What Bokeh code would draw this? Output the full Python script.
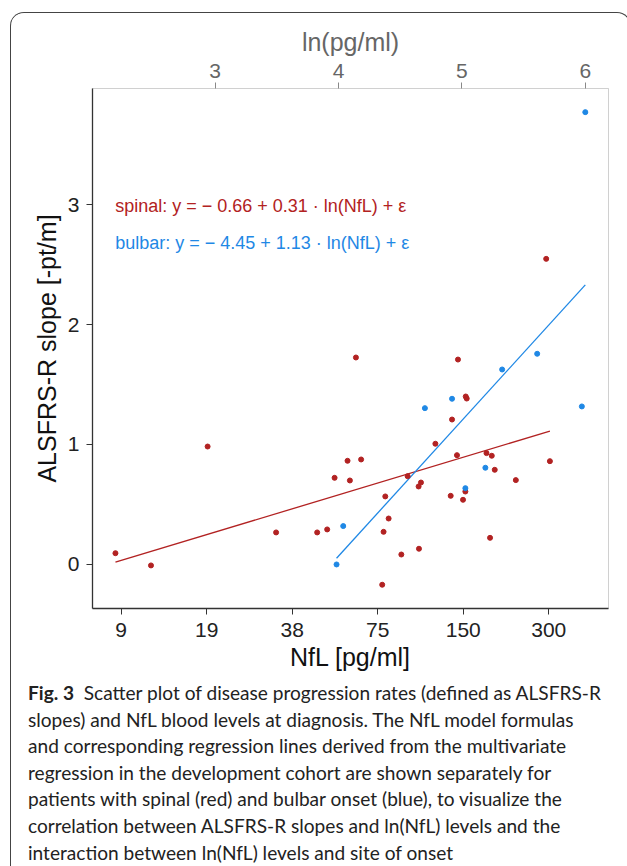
import math
from bokeh.plotting import figure
from bokeh.models import (LinearAxis, FixedTicker, Range1d, Label, Div)
from bokeh.layouts import column
from bokeh.embed import file_html
from bokeh.resources import INLINE

# ---------------- data ----------------
spinal_ln_nfl = [2.192, 2.480, 2.939, 3.494, 3.827, 3.908, 3.968, 4.073, 4.092, 4.141,
                 4.183, 4.354, 4.365, 4.379, 4.406, 4.509, 4.560, 4.649, 4.652, 4.668,
                 4.785, 4.909, 4.920, 4.960, 4.968, 5.009, 5.028, 5.031, 5.039, 5.199,
                 5.228, 5.242, 5.266, 5.437, 5.683, 5.713]
spinal_slope = [0.094, -0.008, 0.983, 0.267, 0.267, 0.292, 0.722, 0.864, 0.700, 1.725,
                0.875, -0.169, 0.272, 0.567, 0.383, 0.083, 0.736, 0.650, 0.131, 0.683,
                1.006, 0.572, 1.208, 0.911, 1.708, 0.539, 0.608, 1.400, 1.383, 0.928,
                0.222, 0.906, 0.789, 0.703, 2.547, 0.861]

bulbar_ln_nfl = [3.984, 4.038, 4.700, 4.920, 5.028, 5.190, 5.326, 5.610, 5.972, 6.000]
bulbar_slope = [0.000, 0.320, 1.303, 1.381, 0.636, 0.806, 1.625, 1.756, 1.317, 3.770]

spinal_coef = (-0.66, 0.31)
bulbar_coef = (-4.45, 1.13)

nfl_tick_values = [9.375, 18.75, 37.5, 75, 150, 300]
nfl_tick_labels = ["9", "19", "38", "75", "150", "300"]
ln_tick_values = [3, 4, 5, 6]
slope_tick_values = [0, 1, 2, 3]

spinal_label = "spinal:  y = \u2212 0.66 + 0.31 \u00b7 ln(NfL) + \u03b5"
bulbar_label = "bulbar:  y = \u2212 4.45 + 1.13 \u00b7 ln(NfL) + \u03b5"

caption_title = "Fig. 3"
caption_lines = [
    "Scatter plot of disease progression rates (defined as ALSFRS-R",
    "slopes) and NfL blood levels at diagnosis. The NfL model formulas",
    "and corresponding regression lines derived from the multivariate",
    "regression in the development cohort are shown separately for",
    "patients with spinal (red) and bulbar onset (blue), to visualize the",
    "correlation between ALSFRS-R slopes and ln(NfL) levels and the",
    "interaction between ln(NfL) levels and site of onset",
]

RED = "#b22222"
BLUE = "#1f88e5"
FONT = "Liberation Sans"
CAP_FONT = "Lato"

# ---------------- figure ----------------
p = figure(output_backend="svg", toolbar_location=None,
           frame_width=516, frame_height=520,
           min_border_left=81, min_border_right=12, min_border_top=75, min_border_bottom=66,
           x_range=Range1d(2.006, 6.188), y_range=Range1d(-0.367, 3.967),
           background_fill_color="white", border_fill_color="white",
           outline_line_color="#d0d0d0")
p.grid.visible = False

xa = p.xaxis[0]
xa.ticker = FixedTicker(ticks=[math.log(v) for v in nfl_tick_values])
xa.major_label_overrides = {math.log(v): lab for v, lab in zip(nfl_tick_values, nfl_tick_labels)}
xa.axis_label = "NfL [pg/ml]"
for ax in (xa, p.yaxis[0]):
    ax.minor_tick_line_color = None
    ax.major_tick_out = 6
    ax.major_tick_in = 0
    ax.axis_line_color = "#333333"
    ax.major_tick_line_color = "#333333"
    ax.major_label_text_font = FONT
    ax.major_label_text_font_size = "21px"
    ax.major_label_text_color = "#222222"
    ax.axis_label_text_font = FONT
    ax.axis_label_text_font_size = "25px"
    ax.axis_label_text_font_style = "normal"
    ax.axis_label_text_color = "#111111"
    ax.axis_line_width = 1.3
xa.major_label_standoff = 8
xa.axis_label_standoff = 3

ya = p.yaxis[0]
ya.ticker = FixedTicker(ticks=slope_tick_values)
ya.axis_label = "ALSFRS-R slope [-pt/m]"
ya.major_label_standoff = 7
ya.axis_label_standoff = 4

top = LinearAxis(ticker=FixedTicker(ticks=ln_tick_values), axis_label="ln(pg/ml)")
top.minor_tick_line_color = None
top.major_tick_out = 6
top.major_tick_in = 0
top.axis_line_color = "#d0d0d0"
top.major_tick_line_color = "#888888"
top.major_label_text_font = FONT
top.major_label_text_font_size = "21px"
top.major_label_text_color = "#666666"
top.axis_label_text_font = FONT
top.axis_label_text_font_size = "25px"
top.axis_label_text_font_style = "normal"
top.axis_label_text_color = "#666666"
top.major_label_standoff = 5
top.axis_label_standoff = 5
p.add_layout(top, "above")


def reg_line(xs, coef):
    lo, hi = min(xs), max(xs)
    return [lo, hi], [coef[0] + coef[1] * lo, coef[0] + coef[1] * hi]


sx, sy = reg_line(spinal_ln_nfl, spinal_coef)
bx, by = reg_line(bulbar_ln_nfl, bulbar_coef)
p.line(sx, sy, line_color=RED, line_width=1.3)
p.line(bx, by, line_color=BLUE, line_width=1.3)

p.scatter(spinal_ln_nfl, spinal_slope, size=5, fill_color=RED, line_color=RED)
p.scatter(bulbar_ln_nfl, bulbar_slope, size=5, fill_color=BLUE, line_color=BLUE)

p.add_layout(Label(x=2.19, y=2.99, text=spinal_label, text_color=RED, text_font=FONT,
                   text_font_size="18px", text_baseline="middle"))
p.add_layout(Label(x=2.19, y=2.68, text=bulbar_label, text_color=BLUE, text_font=FONT,
                   text_font_size="18px", text_baseline="middle"))

# ---------------- caption ----------------
lines_html = "<br>".join(
    [f"<b style='font-weight:700'>{caption_title}</b>&nbsp;&nbsp;{caption_lines[0]}"]
    + caption_lines[1:]
)
cap = Div(text=f"<div style=\"font-family:{CAP_FONT};font-size:19.1px;line-height:26.6px;"
               f"color:#222;white-space:nowrap;padding:1px 0 0 12px\">{lines_html}</div>",
          width=609, height=190, styles={"overflow": "hidden"})

layout = column(p, cap, margin=(12, 0, 0, 10),
                styles={"border": "1.3px solid #444", "border-bottom": "none",
                        "border-radius": "14px 14px 0 0", "overflow": "hidden",
                        "background": "white"})

open("out.html", "w").write(file_html(layout, INLINE))
